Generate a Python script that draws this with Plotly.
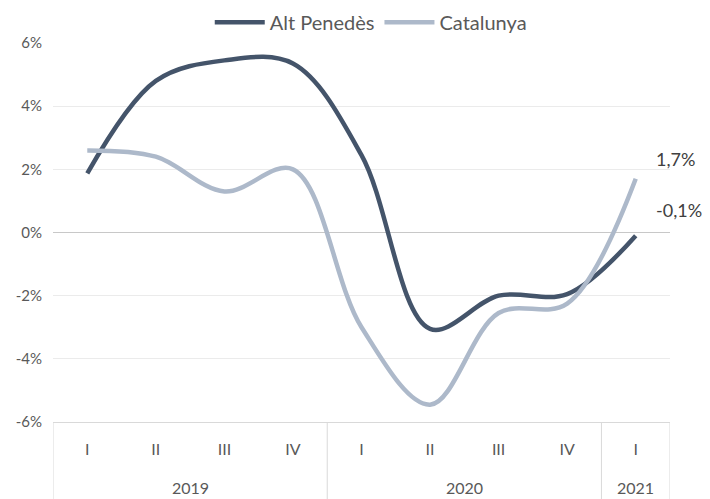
import plotly.graph_objects as go

years = ["2019", "2019", "2019", "2019", "2020", "2020", "2020", "2020", "2021"]
quarters = ["I", "II", "III", "IV", "I", "II", "III", "IV", "I"]
alt_penedes = [1.87, 4.8, 5.45, 5.35, 2.45, -3.05, -2.0, -1.95, -0.1]
catalunya = [2.6, 2.4, 1.3, 2.0, -3.0, -5.45, -2.55, -2.25, 1.7]
y_ticks = [-6, -4, -2, 0, 2, 4, 6]
y_ticktext = ["-6%", "-4%", "-2%", "0%", "2%", "4%", "6%"]

font_family = "Lato, 'Open Sans', sans-serif"
cats = [f"{y} {q}" for y, q in zip(years, quarters)]
n = len(cats)

fig = go.Figure()
fig.add_trace(go.Scatter(
    x=cats, y=alt_penedes, name="Alt Penedès", mode="lines",
    line=dict(color="#44546A", width=4.5, shape="spline", smoothing=1.0),
))
fig.add_trace(go.Scatter(
    x=cats, y=catalunya, name="Catalunya", mode="lines",
    line=dict(color="#ADB9CA", width=4.5, shape="spline", smoothing=1.0),
))

# end-of-series value labels
for vals, yshift in ((catalunya, 20), (alt_penedes, 26)):
    fig.add_annotation(
        xref="x", yref="y", x=n - 1, y=vals[-1],
        text=f"{vals[-1]:.1f}%".replace(".", ","),
        showarrow=False, xanchor="left", yanchor="middle",
        xshift=18, yshift=yshift,
        font=dict(size=18, color="#404040", family=font_family),
    )

# year group labels and dividers
plot_h = 499 - 35 - 85
groups = []
for i, yv in enumerate(years):
    if not groups or groups[-1][0] != yv:
        groups.append([yv, i, i])
    else:
        groups[-1][2] = i
bounds = sorted({g[1] - 0.5 for g in groups} | {groups[-1][2] + 0.5})
for b in bounds:
    fig.add_shape(type="line", xref="x", yref="paper", x0=b, x1=b,
                  y0=0, y1=-77 / plot_h, line=dict(color="#D9D9D9", width=1))
for yv, i0, i1 in groups:
    fig.add_annotation(
        xref="x", yref="paper", x=(i0 + i1) / 2, y=-65 / plot_h,
        text=yv, showarrow=False, xanchor="center", yanchor="middle",
        font=dict(size=16, color="#595959", family=font_family),
    )

fig.update_layout(
    width=710, height=499,
    margin=dict(l=45, r=48, t=35, b=85, autoexpand=False),
    paper_bgcolor="white", plot_bgcolor="white",
    font=dict(family=font_family, color="#595959", size=15),
    showlegend=True,
    legend=dict(orientation="h", x=0.515, xanchor="center", y=1.055, yanchor="middle",
                font=dict(size=20, color="#595959"), itemwidth=50),
)
fig.update_xaxes(
    type="category", range=[-0.5, n - 0.5],
    tickvals=cats, ticktext=quarters,
    showgrid=False, showline=True, linecolor="#D9D9D9", linewidth=1,
    tickfont=dict(size=16, color="#595959"),
    ticks="", ticklabelstandoff=13,
)
fig.update_yaxes(
    range=[-6, 6], tickvals=y_ticks, ticktext=y_ticktext,
    showgrid=True, gridcolor="#EBEBEB", gridwidth=1,
    zeroline=True, zerolinecolor="#C8C8C8", zerolinewidth=1,
    tickfont=dict(size=15, color="#595959"), ticklabelstandoff=10,
)

fig.write_html("out.html")
